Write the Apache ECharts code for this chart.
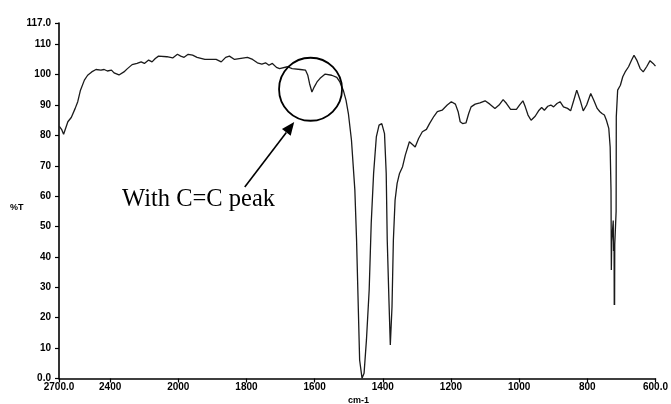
<!DOCTYPE html>
<html>
<head>
<meta charset="utf-8">
<script src="https://cdn.jsdelivr.net/npm/echarts@6/dist/echarts.min.js"></script>
<style>html,body{margin:0;padding:0;background:#fff}#c{width:671px;height:404px}</style>
</head>
<body>
<div id="c"></div>
<script>
// Wavenumbers (cm-1) and %T
const wavenumbers = [2698,2685,2673,2660,2648,2628,2605,2590,2574,2551,2532,2508,2483,2454,2435,2416,2392,2377,2348,2319,2300,2271,2242,2218,2199,2174,2154,2135,2116,2067,2033,2005,1993,1983,1971,1958,1945,1922,1889,1874,1861,1850,1835,1821,1797,1782,1768,1755,1744,1734,1724,1712,1703,1680,1666,1661,1642,1627,1620,1615,1608,1601,1593,1584,1569,1550,1535,1526,1516,1508,1501,1492,1482,1477,1472,1468,1461,1455,1448,1440,1434,1427,1419,1411,1403,1395,1390,1387,1382,1378,1373,1369,1364,1358,1351,1342,1334,1322,1313,1305,1295,1284,1272,1263,1250,1240,1226,1211,1199,1187,1179,1173,1166,1156,1148,1141,1129,1115,1100,1086,1071,1059,1047,1037,1025,1008,999,989,982,974,965,953,943,934,926,916,907,899,889,880,870,858,849,841,831,821,812,802,790,781,771,763,757,750,744,737,733,730.5,729.5,728.5,724,723,721.5,721,720.5,720,719.5,715.5,715,711,703,696,689,679,670,663,655,645,636,626,616,607,600];
const transmittance = [83.0,82.0,80.4,82.5,84.5,85.9,88.9,91.1,94.9,98.2,99.8,100.9,101.7,101.5,101.7,101.2,101.5,100.6,99.9,100.9,101.9,103.3,103.7,104.2,103.7,104.8,104.2,105.3,106.1,105.9,105.5,106.7,106.1,105.7,106.7,106.4,105.7,105.0,105.0,104.2,105.7,106.1,105.0,105.3,105.7,105.0,103.9,103.5,103.9,103.1,103.7,102.4,102.0,102.6,102.0,102.0,101.7,101.5,99.8,97.1,94.3,96.0,97.6,98.8,100.2,99.8,99.1,97.6,94.9,91.6,87.2,78.5,62.0,45.6,23.6,6.1,0.1,1.7,12.7,29.1,51.1,67.5,79.5,83.4,83.9,80.6,67.5,45.6,25.8,11.0,23.6,45.6,58.7,64.2,67.5,69.7,73.5,77.9,77.0,76.2,79.0,81.2,82.0,83.9,86.3,87.8,88.3,90.0,91.1,90.3,87.8,84.5,83.9,84.1,87.2,89.4,90.3,90.7,91.4,90.3,88.9,90.0,91.8,90.5,88.6,88.6,90.0,91.4,89.4,86.7,85.0,86.3,88.1,89.2,88.3,89.6,90.0,89.4,90.5,91.1,89.4,88.9,88.1,91.1,94.9,91.6,88.1,90.0,93.8,91.6,88.9,87.8,87.2,86.7,85.0,82.3,76.2,62.0,35.7,45.0,52.0,42.0,44.0,24.2,42.0,24.2,44.0,55.0,86.1,94.9,96.5,99.3,100.9,102.6,104.8,106.4,104.8,102.0,100.9,102.6,104.6,103.7,102.8];

const xTickWavenumbers = [2700,2400,2000,1800,1600,1400,1200,1000,800,600];
const xTickLabels = ['2700.0','2400','2000','1800','1600','1400','1200','1000','800','600.0'];
const yTickValues = [0,10,20,30,40,50,60,70,80,90,100,110,117];
const yTickLabels = ['0.0','10','20','30','40','50','60','70','80','90','100','110','117.0'];

// Spectrometer x-scale: 2700-2000 compressed by 2 relative to 2000-600
function toAxis(w){ return w >= 2000 ? (2700 - w) / 2 : 350 + (2000 - w); }

const xTickPos = xTickWavenumbers.map(toAxis);
const seriesData = wavenumbers.map((w, i) => [toAxis(w), transmittance[i]]);

const chart = echarts.init(document.getElementById('c'), null, {renderer: 'canvas'});
const labelFont = {fontFamily: 'Liberation Sans, Arial, sans-serif', fontWeight: 'bold', fontSize: 10, color: '#000'};

chart.setOption({
  animation: false,
  backgroundColor: '#fff',
  grid: {left: 59, right: 9, top: 23, bottom: 25.5},
  xAxis: {
    type: 'value', min: 0, max: 1750,
    splitLine: {show: false},
    axisLine: {lineStyle: {color: '#000', width: 1.6}},
    axisTick: {show: true, length: 4, lineStyle: {color: '#000', width: 1.2}, customValues: xTickPos},
    axisLabel: Object.assign({margin: 4, customValues: xTickPos,
      formatter: function(v){ const i = xTickPos.findIndex(p => Math.abs(p - v) < 1e-6); return i >= 0 ? xTickLabels[i] : ''; }
    }, labelFont)
  },
  yAxis: {
    type: 'value', min: 0, max: 117,
    splitLine: {show: false},
    axisLine: {show: true, lineStyle: {color: '#000', width: 1.6}},
    axisTick: {show: true, length: 4, lineStyle: {color: '#000', width: 1.2}, customValues: yTickValues},
    axisLabel: Object.assign({margin: 8, customValues: yTickValues,
      formatter: function(v){ const i = yTickValues.indexOf(v); return i >= 0 ? yTickLabels[i] : ''; }
    }, labelFont)
  },
  series: [{
    type: 'line', data: seriesData, showSymbol: false, symbol: 'none',
    lineStyle: {color: '#1a1a1a', width: 1.3}, z: 3
  }]
});

const center = chart.convertToPixel({gridIndex: 0}, [toAxis(1612), 95.2]);
const tip = chart.convertToPixel({gridIndex: 0}, [toAxis(1660), 84.4]);
const tail = chart.convertToPixel({gridIndex: 0}, [toAxis(1805), 63.0]);
const dx = tip[0] - tail[0], dy = tip[1] - tail[1];
const len = Math.sqrt(dx*dx + dy*dy), ux = dx/len, uy = dy/len;
const headLen = 13, headW = 5.5;
const base = [tip[0] - ux*headLen, tip[1] - uy*headLen];

chart.setOption({
  graphic: [
    {type: 'circle', shape: {cx: center[0], cy: center[1], r: 31.5}, style: {fill: 'none', stroke: '#000', lineWidth: 1.8}, z: 10},
    {type: 'line', shape: {x1: tail[0], y1: tail[1], x2: base[0], y2: base[1]}, style: {stroke: '#000', lineWidth: 1.6}, z: 10},
    {type: 'polygon', shape: {points: [tip, [base[0] - uy*headW, base[1] + ux*headW], [base[0] + uy*headW, base[1] - ux*headW]]}, style: {fill: '#000'}, z: 10},
    {type: 'text', left: 122, top: 187, style: {text: 'With C=C peak', font: '24.5px "Liberation Serif", "Times New Roman", serif', fill: '#000'}, z: 10},
    {type: 'text', left: 10, top: 203, style: {text: '%T', font: 'bold 9px "Liberation Sans", Arial, sans-serif', fill: '#000'}, z: 10},
    {type: 'text', left: 348, top: 396, style: {text: 'cm-1', font: 'bold 9px "Liberation Sans", Arial, sans-serif', fill: '#000'}, z: 10}
  ]
});
</script>
</body>
</html>
